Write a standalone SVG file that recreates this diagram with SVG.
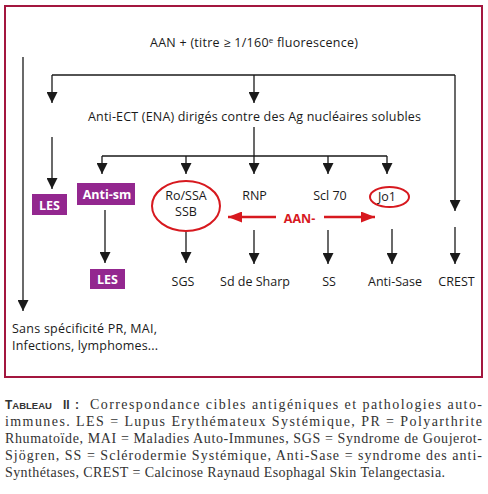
<svg xmlns="http://www.w3.org/2000/svg" width="488" height="494" viewBox="0 0 488 494">
<defs>
<style>
.t{font-family:"Open Sans","Liberation Sans",sans-serif;font-size:12.5px;fill:#1a1a1a;text-anchor:middle}
.tl{text-anchor:start}
.w{font-weight:bold;fill:#fff}
.r{font-weight:bold;fill:#d7191f}
.ln{stroke:#1a1a1a;stroke-width:1.3;fill:none}
.ar{marker-end:url(#ah)}
.red{stroke:#d7191f;stroke-width:2.5;fill:none;marker-end:url(#rh)}
.box{fill:#93278f}
.ov{fill:none;stroke:#d7191f;stroke-width:2}
.cap{font-family:"Liberation Serif",serif;font-size:14px;fill:#333}
.capb{font-family:"Liberation Sans",sans-serif;font-weight:bold;fill:#333}
</style>
<marker id="ah" markerUnits="userSpaceOnUse" markerWidth="11" markerHeight="11" viewBox="0 0 10 10" refX="10" refY="5" orient="auto"><path d="M0,0 L10,5 L0,10 z" fill="#1a1a1a"/></marker>
<marker id="rh" markerUnits="userSpaceOnUse" markerWidth="14" markerHeight="11" viewBox="0 0 14 11" refX="14" refY="5.5" orient="auto"><path d="M0,0 L14,5.5 L0,11 z" fill="#d7191f"/></marker>
</defs>
<rect id="frame" x="5" y="6" width="477" height="371" fill="#fff" stroke="#a3173f" stroke-width="2"/>
<g id="connectors">
<path class="ln ar" d="M23,57 V311"/>
<path class="ln" d="M52,75 H455"/>
<path class="ln ar" d="M52,75 V103"/>
<path class="ln ar" d="M254,75 V103"/>
<path class="ln ar" d="M455,75 V211"/>
<path class="ln ar" d="M52,137 V189"/>
<path class="ln" d="M254,127 V156 M102,156 H387"/>
<path class="ln ar" d="M102,156 V174"/>
<path class="ln ar" d="M186,156 V174"/>
<path class="ln ar" d="M254,156 V174"/>
<path class="ln ar" d="M328,156 V174"/>
<path class="ln ar" d="M387,156 V174"/>
<path class="ln ar" d="M105,210 V263"/>
<path class="ln ar" d="M186,232 V263"/>
<path class="ln ar" d="M254,230 V264"/>
<path class="ln ar" d="M328,230 V264"/>
<path class="ln ar" d="M392,229 V264"/>
<path class="ln ar" d="M455,227 V264"/>
<path class="red" d="M276,217 H228"/>
<path class="red" d="M324,217 H375"/>
</g>
<g id="n-aan"><text class="t" x="254" y="47" textLength="208">AAN + (titre ≥  1/160<tspan font-size="8" dy="-4">e</tspan><tspan dy="4"> fluorescence)</tspan></text></g>
<g id="n-ena"><text class="t" x="254.5" y="121" textLength="333">Anti-ECT (ENA) dirigés contre des Ag nucléaires solubles</text></g>
<g id="n-les1"><rect class="box" x="32" y="194" width="35" height="21"/><text class="t w" x="49.5" y="209.5">LES</text></g>
<g id="n-antism"><rect class="box" x="77" y="183" width="58" height="22"/><text class="t w" x="107" y="198.5">Anti-sm</text></g>
<g id="n-rossa"><ellipse class="ov" cx="186" cy="206" rx="34" ry="25"/><text class="t" x="186" y="199.5">Ro/SSA</text><text class="t" x="186" y="215.5">SSB</text></g>
<g id="n-rnp"><text class="t" x="254.5" y="200">RNP</text></g>
<g id="n-scl"><text class="t" x="330" y="200">Scl 70</text></g>
<g id="n-jo1"><ellipse class="ov" cx="389.5" cy="197" rx="19.5" ry="10"/><text class="t" x="387" y="201">Jo1</text></g>
<g id="n-aanneg"><text class="t r" x="299.5" y="223">AAN-</text></g>
<g id="n-les2"><rect class="box" x="90" y="269" width="35" height="20"/><text class="t w" x="107.5" y="283.5">LES</text></g>
<g id="n-sgs"><text class="t" x="183" y="286">SGS</text></g>
<g id="n-sharp"><text class="t" x="255" y="286">Sd de Sharp</text></g>
<g id="n-ss"><text class="t" x="329" y="286">SS</text></g>
<g id="n-antisase"><text class="t" x="395" y="286">Anti-Sase</text></g>
<g id="n-crest"><text class="t" x="456.5" y="286">CREST</text></g>
<g id="n-sans"><text class="t tl" x="12" y="333" textLength="145">Sans spécificité  PR, MAI,</text><text class="t tl" x="12" y="350" textLength="146">Infections, lymphomes...</text></g>
<g id="caption">
<text class="capb" x="5" y="409" font-size="12">T<tspan font-size="9.5">ABLEAU</tspan><tspan x="63">II</tspan><tspan x="75">:</tspan></text>
<text class="cap" x="90" y="409" textLength="392" lengthAdjust="spacing">Correspondance cibles antigéniques et pathologies auto-</text>
<text class="cap" x="5" y="426" textLength="477" lengthAdjust="spacing">immunes. LES = Lupus Erythémateux Systémique, PR = Polyarthrite</text>
<text class="cap" x="5" y="443" textLength="477" lengthAdjust="spacing">Rhumatoïde, MAI = Maladies Auto-Immunes, SGS = Syndrome de Goujerot-</text>
<text class="cap" x="5" y="460" textLength="477" lengthAdjust="spacing">Sjögren, SS = Sclérodermie Systémique, Anti-Sase = syndrome des anti-</text>
<text class="cap" x="5" y="477" textLength="440" lengthAdjust="spacing">Synthétases, CREST = Calcinose Raynaud Esophagal Skin Telangectasia.</text>
</g>
</svg>
